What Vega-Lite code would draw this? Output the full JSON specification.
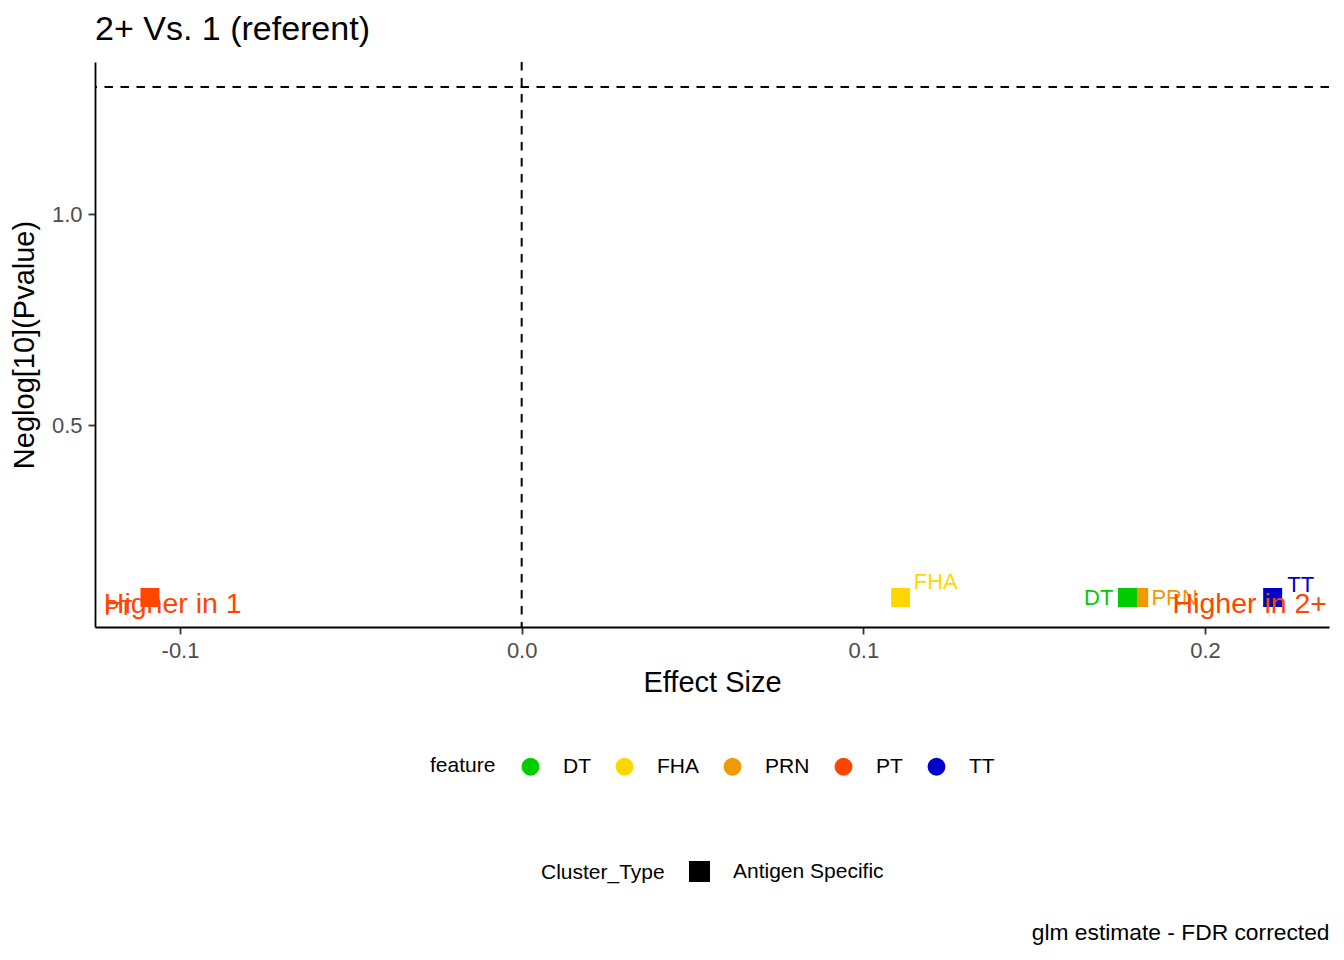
{
  "$schema": "https://vega.github.io/schema/vega-lite/v6.json",
  "width": 1234,
  "height": 565,
  "autosize": {"type": "none"},
  "padding": {"left": 95, "top": 62, "right": 15, "bottom": 333},
  "background": "white",
  "title": {"text": "2+ Vs. 1 (referent)", "anchor": "start", "frame": "group", "fontSize": 34, "font": "Liberation Sans", "fontWeight": "normal", "color": "black", "offset": 14},
  "config": {
    "view": {"stroke": null},
    "font": "Liberation Sans",
    "axis": {"grid": false, "domainColor": "black", "domainWidth": 1.8, "tickColor": "#333333", "tickWidth": 1.8, "tickSize": 7, "labelFontSize": 22, "labelColor": "#4D4D4D", "labelFont": "Liberation Sans", "titleFont": "Liberation Sans", "titleFontSize": 29, "titleFontWeight": "normal", "titleColor": "black", "labelPadding": 6},
    "legend": {"labelFont": "Liberation Sans", "titleFont": "Liberation Sans", "labelFontSize": 21, "titleFontSize": 21, "titleFontWeight": "normal", "titleColor": "black", "labelColor": "black"}
  },
  "datasets": {
    "points": [
      {"feature": "PT", "Cluster_Type": "Antigen Specific", "effect": -0.1088, "neglog": 0.0912},
      {"feature": "FHA", "Cluster_Type": "Antigen Specific", "effect": 0.1109, "neglog": 0.0912},
      {"feature": "PRN", "Cluster_Type": "Antigen Specific", "effect": 0.1806, "neglog": 0.0912},
      {"feature": "DT", "Cluster_Type": "Antigen Specific", "effect": 0.1773, "neglog": 0.0912},
      {"feature": "TT", "Cluster_Type": "Antigen Specific", "effect": 0.2198, "neglog": 0.0912}
    ],
    "labels": [
      {"feature": "PT", "label": "PT", "lx": -0.118, "ly": 0.066},
      {"feature": "FHA", "label": "FHA", "lx": 0.1212, "ly": 0.128},
      {"feature": "DT", "label": "DT", "lx": 0.1689, "ly": 0.09},
      {"feature": "PRN", "label": "PRN", "lx": 0.1911, "ly": 0.09},
      {"feature": "TT", "label": "TT", "lx": 0.228, "ly": 0.121}
    ],
    "notes": [
      {"note": "Higher in 1", "nx": -0.1223, "ny": 0.0545},
      {"note": "Higher in 2+", "nx": 0.1905, "ny": 0.0545}
    ],
    "refs": [
      {"effect_ref": 0, "pvalue_ref": 1.30103}
    ]
  },
  "resolve": {"scale": {"x": "independent"}, "axis": {"x": "independent"}},
  "layer": [
    {
      "layer": [
        {
          "data": {"name": "refs"},
          "mark": {"type": "rule", "strokeDash": [8.5, 7.5], "strokeWidth": 2, "color": "black"},
          "encoding": {
            "y": {"field": "pvalue_ref", "type": "quantitative", "scale": {"domain": [0.02133, 1.3602], "nice": false, "zero": false}}
          }
        },
        {
          "data": {"name": "points"},
          "mark": {"type": "point", "filled": true, "opacity": 1, "size": 361},
          "encoding": {
            "x": {"field": "effect", "type": "quantitative", "scale": {"domain": [-0.12488, 0.23629], "nice": false, "zero": false}, "axis": {"orient": "bottom", "values": [-0.1, 0, 0.1, 0.2], "format": ".1f", "labelExpr": "replace(datum.label, '\u2212', '-')", "title": "Effect Size", "titlePadding": 7}},
            "y": {"field": "neglog", "type": "quantitative", "scale": {"domain": [0.02133, 1.3602], "nice": false, "zero": false}, "axis": {"values": [0.5, 1.0], "format": ".1f", "title": "Neglog[10](Pvalue)", "titlePadding": 12}},
            "color": {"field": "feature", "type": "nominal", "scale": {"domain": ["DT", "FHA", "PRN", "PT", "TT"], "range": ["#00CD00", "#FFD700", "#EE9A00", "#FF4500", "#0000CD"]}, "legend": {"orient": "none", "legendX": 335, "legendY": 694, "direction": "horizontal", "titleOrient": "left", "symbolType": "circle", "symbolSize": 320, "labelOffset": 22, "titlePadding": 24, "columnPadding": 23, "symbolStrokeWidth": 0, "symbolOpacity": 1}},
            "shape": {"field": "Cluster_Type", "type": "nominal", "scale": {"domain": ["Antigen Specific"], "range": ["square"]}, "legend": {"orient": "none", "legendX": 446, "legendY": 799, "direction": "horizontal", "titleOrient": "left", "symbolSize": 380, "symbolFillColor": "black", "symbolStrokeColor": "black", "symbolOpacity": 1, "labelOffset": 23, "titlePadding": 24}}
          }
        },
        {
          "data": {"name": "labels"},
          "mark": {"type": "text", "fontSize": 22, "font": "Liberation Sans", "align": "center", "baseline": "middle"},
          "encoding": {
            "x": {"field": "lx", "type": "quantitative"},
            "y": {"field": "ly", "type": "quantitative"},
            "text": {"field": "label"},
            "color": {"field": "feature", "type": "nominal", "legend": null}
          }
        },
        {
          "data": {"name": "notes"},
          "mark": {"type": "text", "fontSize": 28.5, "font": "Liberation Sans", "align": "left", "baseline": "alphabetic", "color": "#FF4500"},
          "encoding": {
            "x": {"field": "nx", "type": "quantitative"},
            "y": {"field": "ny", "type": "quantitative"},
            "text": {"field": "note"}
          }
        }
      ]
    },
    {
      "data": {"name": "refs"},
      "mark": {"type": "rule", "strokeDash": [8.5, 7.5], "strokeWidth": 2, "color": "black"},
      "encoding": {
        "x": {"field": "effect_ref", "type": "quantitative", "scale": {"domain": [-0.12488, 0.23629], "nice": false, "zero": false}, "axis": {"orient": "bottom", "domain": false, "ticks": false, "labels": false, "title": "glm estimate - FDR corrected", "titleAnchor": "end", "titleFontSize": 22.8, "titleY": 305, "titleBaseline": "middle"}}
      }
    }
  ]
}
